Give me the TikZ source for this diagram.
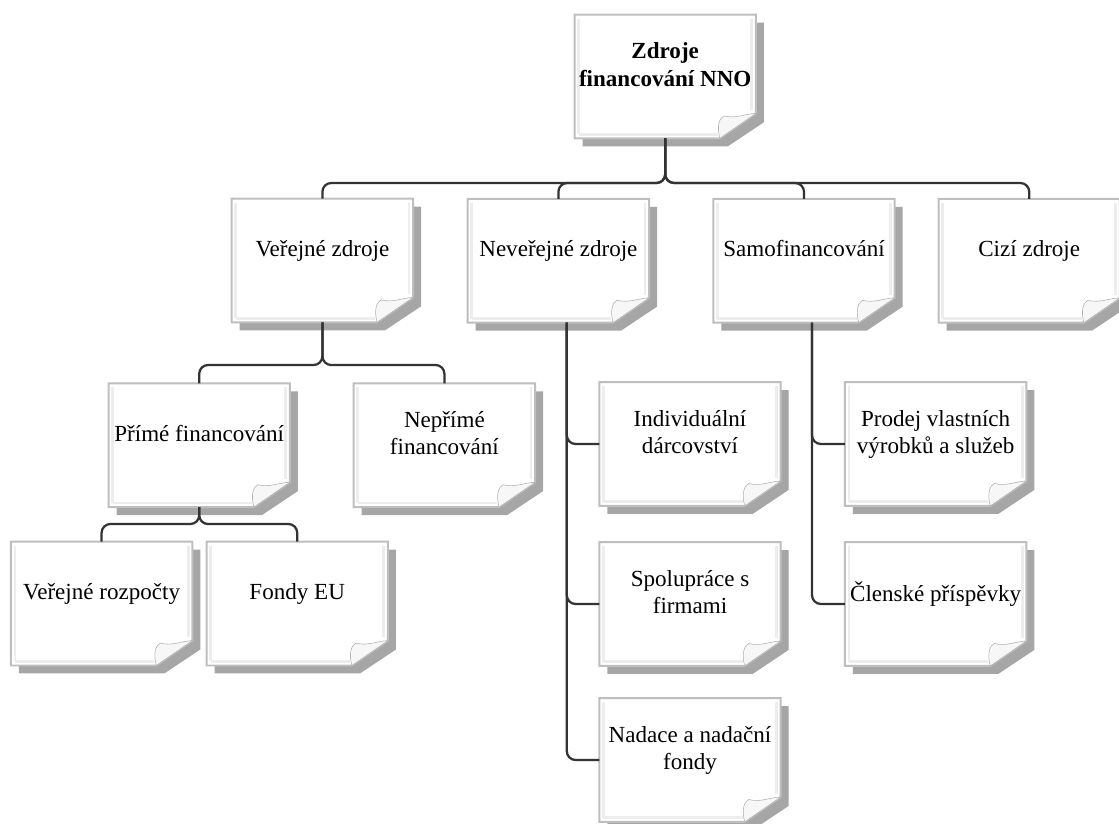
\documentclass[tikz,border=0pt]{standalone}
\usepackage{fontspec}
\setmainfont{Liberation Serif}
\usetikzlibrary{backgrounds}
\definecolor{linkgray}{HTML}{333333}
\definecolor{shadowgray}{HTML}{A6A6A6}
\definecolor{rimgray}{HTML}{BEBEBE}
\tikzset{
  card/.style={minimum width=4.52cm, minimum height=3.08cm, inner sep=2pt,
    align=center, text depth=17pt, font=\fontsize{16.4}{19.5}\selectfont},
  link/.style={draw=linkgray, line width=1.6pt, rounded corners=.22cm},
}

\begin{document}
\begin{tikzpicture}
\useasboundingbox (0,0) rectangle (27.975,-20.575);

\node[card, font=\fontsize{16.4}{19.5}\selectfont\bfseries] (zf) at (16.63,-1.91)
  {Zdroje\\financování NNO};

\node[card] (vz) at (8.06,-6.51) {Veřejné zdroje};
\node[card] (nz) at (13.96,-6.52) {Neveřejné zdroje};
\node[card] (sf) at (20.10,-6.52) {Samofinancování};
\node[card] (cz) at (25.73,-6.52) {Cizí zdroje};

\node[card] (pf) at (4.98,-11.13) {Přímé financování};
\node[card] (nf) at (11.11,-11.13) {Nepřímé\\financování};
\node[card] (vr) at (2.54,-15.09) {Veřejné rozpočty};
\node[card] (fe) at (7.43,-15.09) {Fondy EU};

\node[card] (id) at (17.25,-11.10) {Individuální\\dárcovství};
\node[card] (sp) at (17.25,-15.10) {Spolupráce s\\firmami};
\node[card] (na) at (17.25,-19.00) {Nadace a nadační\\fondy};

\node[card] (pv) at (23.39,-11.10) {Prodej vlastních\\výrobků a služeb};
\node[card] (cp) at (23.39,-15.10) {Členské příspěvky};

\begin{scope}[on background layer]
\foreach \n in {zf,vz,nz,sf,cz,pf,nf,vr,fe,id,sp,na,pv,cp} {
  \fill[shadowgray] ([shift={(.2,-.2)}]\n.north west) -- ([shift={(.2,-.2)}]\n.north east)
    -- ([shift={(.2,.4)}]\n.south east) -- ([shift={(-.7,-.2)}]\n.south east)
    -- ([shift={(.2,-.2)}]\n.south west) -- cycle;
  \filldraw[fill=white, draw=rimgray, line width=1.4pt] (\n.north west) -- (\n.north east)
    -- ([yshift=.62cm]\n.south east) -- ([xshift=-.9cm]\n.south east)
    -- (\n.south west) -- cycle;
  \draw[gray!14, line width=2pt] ([shift={(.1,.1)}]\n.south west) -- ([shift={(.1,-.1)}]\n.north west);
  \draw[gray!14, line width=2pt] ([shift={(.1,.1)}]\n.south west) -- ([shift={(-.95,.1)}]\n.south east);
  \draw[gray!14, line width=2pt] ([shift={(-.1,-.1)}]\n.north east) -- ([shift={(-.1,.7)}]\n.south east);
  \filldraw[fill=gray!6, draw=gray!60, line width=.4pt] ([xshift=-.9cm]\n.south east)
    .. controls ([shift={(-.98,.3)}]\n.south east) and ([shift={(-.92,.5)}]\n.south east)
    .. ([shift={(-.8,.56)}]\n.south east)
    .. controls ([shift={(-.5,.48)}]\n.south east) and ([shift={(-.25,.62)}]\n.south east)
    .. ([yshift=.62cm]\n.south east) -- cycle;
}
\end{scope}

\coordinate (bus0) at (0,-4.575);
\coordinate (bus1) at (0,-9.125);
\coordinate (bus2) at (0,-13.1);

\foreach \c in {vz,nz,sf,cz}
  \draw[link] (zf.south) |- (\c.north |- bus0) -- (\c.north);
\foreach \c in {pf,nf}
  \draw[link] (vz.south) |- (\c.north |- bus1) -- (\c.north);
\foreach \c in {vr,fe}
  \draw[link] (pf.south) |- (\c.north |- bus2) -- (\c.north);

\coordinate (nzo) at ([xshift=.21cm]nz.south);
\foreach \c in {id,sp,na}
  \draw[link] (nzo) |- (\c.west);
\coordinate (sfo) at ([xshift=.2cm]sf.south);
\foreach \c in {pv,cp}
  \draw[link] (sfo) |- (\c.west);
\end{tikzpicture}
\end{document}
